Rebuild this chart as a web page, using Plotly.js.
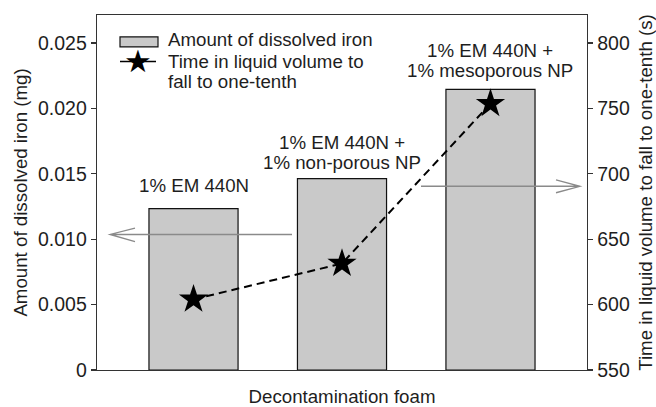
<!DOCTYPE html>
<html>
<head>
<meta charset="utf-8">
<script src="https://cdn.plot.ly/plotly-3.0.1.min.js"></script>
<style>html,body{margin:0;padding:0;background:#fff;}#chart{width:656px;height:407px;}</style>
</head>
<body>
<div id="chart"></div>
<script>
// ---- data ----
var categories = ['1% EM 440N', '1% EM 440N + 1% non-porous NP', '1% EM 440N + 1% mesoporous NP'];
var barLabels = ['1% EM 440N', '1% EM 440N +<br>1% non-porous NP', '1% EM 440N +<br>1% mesoporous NP'];
var dissolvedIron = [0.01234, 0.01463, 0.02145];      // mg
var fallTime = [604, 631.4, 753.6];                    // s
var ironTickVals = [0, 0.005, 0.010, 0.015, 0.020, 0.025];
var ironTickText = ['0', '0.005', '0.010', '0.015', '0.020', '0.025'];
var timeTickVals = [550, 600, 650, 700, 750, 800];
var timeTickText = ['550', '600', '650', '700', '750', '800'];
var seriesNames = ['Amount of dissolved iron', 'Time in liquid volume to fall to one-tenth'];

// ---- style ----
var FONT = 'Liberation Sans, Arial, Helvetica, sans-serif';
var TXT = '#1e1e1e';
var AX = '#333';
var LBL = 18.7;
var labelShift = [23, 16, 19];

var traces = [
  {
    type: 'bar', x: categories, y: dissolvedIron, name: seriesNames[0],
    width: 0.6, marker: {color: '#c9c9c9', line: {color: '#111', width: 1.2}},
    yaxis: 'y', showlegend: false, hoverinfo: 'skip'
  },
  {
    type: 'scatter', mode: 'lines+markers', x: categories, y: fallTime, name: seriesNames[1],
    yaxis: 'y2', line: {color: '#000', width: 2, dash: '8px,5px'},
    marker: {symbol: 'star', size: 22, color: '#000'}, showlegend: false, hoverinfo: 'skip'
  }
];

// plot area in px: x 97..587, y 14.5..370
function px(x) { return (x - 97) / 490; }
function py(y) { return (370 - y) / 355.5; }

var annotations = [];
barLabels.forEach(function (lab, i) {
  var lines = lab.split('<br>');
  lines.forEach(function (ln, j) {
    annotations.push({
      x: categories[i], y: dissolvedIron[i], xref: 'x', yref: 'y',
      text: ln, showarrow: false, xanchor: 'center', yanchor: 'middle',
      yshift: labelShift[i] + (lines.length - 1 - j) * 20,
      font: {family: FONT, size: LBL, color: TXT}
    });
  });
});
// custom legend
annotations.push({xref: 'paper', yref: 'paper', x: px(166), y: py(39.5), text: seriesNames[0],
  showarrow: false, xanchor: 'left', yanchor: 'middle', font: {family: FONT, size: LBL, color: TXT}});
annotations.push({xref: 'paper', yref: 'paper', x: px(166), y: py(61), text: 'Time in liquid volume to',
  showarrow: false, xanchor: 'left', yanchor: 'middle', font: {family: FONT, size: LBL, color: TXT}});
annotations.push({xref: 'paper', yref: 'paper', x: px(166), y: py(81), text: 'fall to one-tenth',
  showarrow: false, xanchor: 'left', yanchor: 'middle', font: {family: FONT, size: LBL, color: TXT}});
annotations.push({xref: 'paper', yref: 'paper', x: px(138), y: py(60.5), text: '\u2605',
  showarrow: false, xanchor: 'center', yanchor: 'middle', font: {family: 'DejaVu Sans', size: 31, color: '#000'}});

var shapes = [
  {type: 'rect', xref: 'paper', yref: 'paper', x0: px(120), x1: px(158), y0: py(46.5), y1: py(36.5),
    fillcolor: '#c9c9c9', line: {color: '#111', width: 1.2}},
  {type: 'line', xref: 'paper', yref: 'paper', x0: px(120), x1: px(156), y0: py(61), y1: py(61),
    line: {color: '#000', width: 1.6}},
  // arrows
  {type: 'path', xref: 'paper', yref: 'paper',
    path: 'M' + px(292) + ',' + py(234.3) + ' L' + px(110) + ',' + py(234.3) +
          ' M' + px(135) + ',' + py(228) + ' L' + px(110) + ',' + py(234.3) + ' L' + px(135) + ',' + py(241.5),
    line: {color: '#8a8a8a', width: 1.3}},
  {type: 'path', xref: 'paper', yref: 'paper',
    path: 'M' + px(421) + ',' + py(186) + ' L' + px(580) + ',' + py(186) +
          ' M' + px(556) + ',' + py(179.5) + ' L' + px(580) + ',' + py(186) + ' L' + px(556) + ',' + py(192.5),
    line: {color: '#8a8a8a', width: 1.3}}
];

var layout = {
  width: 656, height: 407,
  margin: {l: 97, r: 69, t: 14.5, b: 37, pad: 0},
  paper_bgcolor: '#fff', plot_bgcolor: '#fff',
  font: {family: FONT, size: 18, color: TXT},
  showlegend: false,
  xaxis: {
    type: 'category', range: [-0.65, 2.65], showticklabels: false, ticks: '',
    showline: true, mirror: true, linecolor: AX, linewidth: 1.3, showgrid: false, zeroline: false,
    fixedrange: true, automargin: false,
    title: {text: 'Decontamination foam', font: {family: FONT, size: LBL, color: TXT}, standoff: 25}
  },
  yaxis: {
    range: [0, 0.02714], tickvals: ironTickVals, ticktext: ironTickText,
    ticks: 'outside', ticklen: 5, tickwidth: 1.3, tickcolor: AX,
    showline: true, linecolor: AX, linewidth: 1.3, showgrid: false, zeroline: false,
    tickfont: {family: FONT, size: 19.5, color: TXT}, automargin: false,
    title: {text: 'Amount of dissolved iron (mg)', font: {family: FONT, size: LBL, color: TXT}, standoff: 5}
  },
  yaxis2: {
    overlaying: 'y', side: 'right', range: [550, 821.4], tickvals: timeTickVals, ticktext: timeTickText,
    ticks: 'outside', ticklen: 5, tickwidth: 1.3, tickcolor: AX,
    showline: true, linecolor: AX, linewidth: 1.3, showgrid: false, zeroline: false,
    tickfont: {family: FONT, size: 19.5, color: TXT}, automargin: false,
    title: {text: 'Time in liquid volume to fall to one-tenth (s)', font: {family: FONT, size: LBL, color: TXT}, standoff: 10}
  },
  annotations: annotations,
  shapes: shapes
};

Plotly.newPlot('chart', traces, layout, {staticPlot: true, displayModeBar: false});
</script>
</body>
</html>
